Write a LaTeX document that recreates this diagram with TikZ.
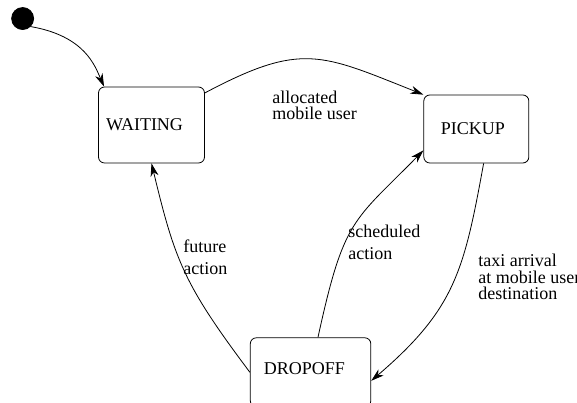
\documentclass[tikz,border=0pt]{standalone}
\usepackage{fontspec}
\setmainfont{Liberation Serif}
\usepackage{tikz}
\usetikzlibrary{arrows.meta,positioning,calc}

\begin{document}
\begin{tikzpicture}[x=1pt, y=1pt, node distance=2cm, >={Stealth[length=13pt,width=8pt,inset=4pt]}, line width=0.8pt]
\tikzset{
init/.style     = {draw, shape=circle, fill=black, minimum size=22pt, inner sep=0pt},
state/.style    = {draw, shape=rectangle, rounded corners=6pt, align=left, inner ysep=0pt, font=\rmfamily\fontsize{18pt}{20pt}\selectfont},
lbl/.style      = {anchor=base west, inner sep=0pt, align=left, font=\rmfamily\fontsize{18pt}{16.7pt}\selectfont},
lblwide/.style  = {lbl, font=\rmfamily\fontsize{18pt}{22.5pt}\selectfont},
}
    \useasboundingbox (0,0) rectangle (577,403);

    % State nodes
    \node [state, text width=91pt, inner xsep=7.5pt, minimum height=76pt] (st_waiting) at (151.5,278) {WAITING};
    \node [init, above left=60pt and 67.4pt of st_waiting]                (st_init)    {};
    \node [state, text width=71pt, inner xsep=17pt, minimum height=68pt,
           right=218.5pt of st_waiting, yshift=-4pt]                     (st_pickup)  {PICKUP};
    \node [state, text width=93.5pt, inner xsep=13.5pt, minimum height=69pt, text depth=8pt,
           below right=174pt and 45pt of st_waiting]                     (st_dropoff) {DROPOFF};

    % Transition edges
    \draw [->] (st_init.-45) .. controls (85,367) and (95,337) .. (st_waiting.141);
    \draw [->] (st_waiting.31) .. controls (302,361.6) and (321,349) .. (st_pickup.147);
    \draw [->] (st_pickup.-78) .. controls (464,132) and (455,94) .. (st_dropoff.-8);
    \draw [->] (st_dropoff.78) .. controls (344,185) and (353,181) .. (st_pickup.202);
    \draw [->] (st_dropoff.west) .. controls (183.4,119.3) and (175,142.4) .. (st_waiting.south);

    % Transition labels (base = last line)
    \node [lbl]     (lbl_alloc)  at (272,283)   {allocated\\mobile user};
    \node [lbl]     (lbl_taxi)   at (478,103)   {taxi arrival\\at mobile user\\destination};
    \node [lblwide] (lbl_sched)  at (348,143)   {scheduled\\action};
    \node [lblwide] (lbl_future) at (183,128)   {future\\action};

\end{tikzpicture}
\end{document}
